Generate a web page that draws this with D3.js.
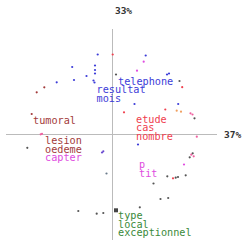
<!DOCTYPE html>
<html>
<head>
<meta charset="utf-8">
<script src="https://cdn.jsdelivr.net/npm/d3@7"></script>
<style>
  body { margin: 0; background: #fff; }
  svg { display: block; }
</style>
</head>
<body>
<svg width="247" height="247"></svg>
<script>
// word labels (coordinates on the two factor axes)
const labelText = ['telephone', 'resultat', 'mois', 'tumoral', 'lesion', 'oedeme', 'capter',
  'etude', 'cas', 'nombre', 'p', 'tit', 'type', 'local', 'exceptionnel'];
const labelX = [0.055, -0.16, -0.16, -0.795, -0.675, -0.675, -0.675,
  0.235, 0.235, 0.235, 0.265, 0.265, 0.055, 0.055, 0.055];
const labelY = [0.495, 0.415, 0.325, 0.105, -0.095, -0.185, -0.265,
  0.115, 0.035, -0.05, -0.335, -0.425, -0.845, -0.93, -1.015];
const labelGroup = ['blue', 'blue', 'blue', 'brown', 'brown', 'brown', 'magenta',
  'red', 'red', 'red', 'magenta', 'magenta', 'green', 'green', 'green'];

// small points (documents)
const pointX = [-0.148, -0.403, -0.175, -0.175, -0.175, -0.26, -0.385, -0.558, -0.19, -0.18,
  0.332, 0.545, 0.565, 0.22, 0.657, 0.255, -0.092, -0.105, -0.06,
  0.002, -0.682, -0.758, -0.808, 0.697, 0.528, 0.115, 0.843, 0.605,
  0.312, 0.245, -0.718, -0.705, 0.78, 0.80, 0.788, 0.812, 0.715,
  0.642, 0.685,
  0.035, 0.67, 0.82, 0.802, 0.772, -0.852, 0.548, 0.632, 0.655, 0.732, 0.41, 0.48, 0.557,
  0.273, -0.342, -0.158, -0.092];
const pointY = [0.80, 0.675, 0.69, 0.645, 0.61, 0.585, 0.545, 0.522, 0.54, 0.52,
  0.79, 0.60, 0.61, 0.305, 0.305, -0.10, -0.168, -0.18, -0.39,
  0.80, 0.472, 0.422, 0.205, 0.473, 0.25, 0.222, -0.022, -0.438,
  0.728, 0.638, 0.002, 0.007, 0.212, 0.20, -0.202, -0.218, -0.30,
  0.238, 0.228,
  0.60, 0.535, 0.162, -0.188, -0.228, -0.133, -0.418, -0.432, -0.425, -0.408, -0.49, -0.645, -0.635,
  -0.728, -0.765, -0.792, -0.785];
const pointGroup = ['blue', 'blue', 'blue', 'blue', 'blue', 'blue', 'blue', 'blue', 'blue', 'blue',
  'blue', 'blue', 'blue', 'blue', 'blue', 'blue', 'violet', 'violet', 'slate',
  'red', 'brown', 'brown', 'brown', 'red', 'red', 'red', 'pink', 'red',
  'magenta', 'magenta', 'pink', 'pink', 'pink', 'pink', 'pink', 'pink', 'magenta',
  'orange', 'orange',
  'gray', 'gray', 'gray', 'gray', 'gray', 'gray', 'gray', 'gray', 'gray', 'gray', 'gray', 'gray', 'gray',
  'gray', 'gray', 'gray', 'gray'];

// the bigger square marker at the bottom
const squareX = [0.035];
const squareY = [-0.758];

const axisPct = ['37%', '33%'];

const colors = {
  blue: '#3c3cd8', brown: '#a23a3a', magenta: '#e04ce0', red: '#f0404e', green: '#3a8a3a',
  violet: '#6a4ad0', slate: '#6a7a8a', pink: '#f060a0', orange: '#f0a060', gray: '#555'
};

const svg = d3.select('svg');

const xScale = d3.scaleLinear().domain([-1, 1]).range([12.5, 212.5]);
const yScale = d3.scaleLinear().domain([-1, 1]).range([234.5, 34.5]);

// axes through the origin
svg.append('line')
  .attr('x1', xScale(-1.065)).attr('x2', xScale(1.045))
  .attr('y1', yScale(0)).attr('y2', yScale(0))
  .attr('stroke', '#bbb').attr('stroke-width', 1);
svg.append('line')
  .attr('x1', xScale(0)).attr('x2', xScale(0))
  .attr('y1', yScale(1.055)).attr('y2', yScale(-1.055))
  .attr('stroke', '#bbb').attr('stroke-width', 1);

// inertia percentages
svg.append('text')
  .attr('x', xScale(1.045) + 7).attr('y', yScale(0) + 3.5)
  .attr('font-family', 'DejaVu Sans Mono').attr('font-size', 9.5).attr('font-weight', 'bold')
  .attr('fill', '#333')
  .text(axisPct[0]);
svg.append('text')
  .attr('x', xScale(0) + 11).attr('y', yScale(1.055) - 15)
  .attr('text-anchor', 'middle')
  .attr('font-family', 'DejaVu Sans Mono').attr('font-size', 9.5).attr('font-weight', 'bold')
  .attr('fill', '#333')
  .text(axisPct[1]);

// points
svg.selectAll('circle.pt')
  .data(pointX)
  .enter()
  .append('circle')
  .attr('class', 'pt')
  .attr('cx', (d, i) => xScale(d))
  .attr('cy', (d, i) => yScale(pointY[i]))
  .attr('r', 1.1)
  .attr('fill', (d, i) => colors[pointGroup[i]]);

svg.selectAll('rect.sq')
  .data(squareX)
  .enter()
  .append('rect')
  .attr('class', 'sq')
  .attr('x', d => xScale(d) - 2)
  .attr('y', (d, i) => yScale(squareY[i]) - 2)
  .attr('width', 4).attr('height', 4)
  .attr('fill', '#444');

// word labels
svg.selectAll('text.lab')
  .data(labelText)
  .enter()
  .append('text')
  .attr('class', 'lab')
  .attr('x', (d, i) => xScale(labelX[i]))
  .attr('y', (d, i) => yScale(labelY[i]))
  .attr('font-family', 'DejaVu Sans Mono')
  .attr('font-size', 10.2)
  .attr('fill', (d, i) => colors[labelGroup[i]])
  .text(d => d);
</script>
</body>
</html>
